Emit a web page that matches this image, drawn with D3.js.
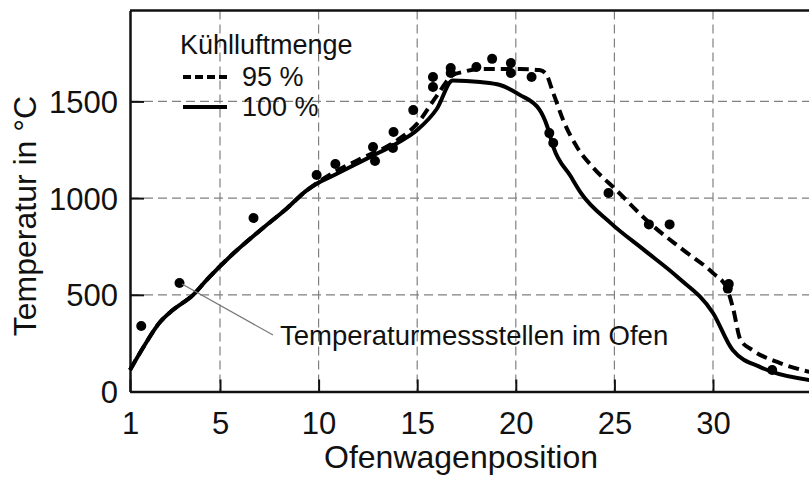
<!DOCTYPE html>
<html>
<head>
<meta charset="utf-8">
<script src="https://cdn.jsdelivr.net/npm/d3@7"></script>
<style>
  body { margin: 0; background: #fff; }
  svg { display: block; font-family: "Liberation Sans", Arial, sans-serif; }
</style>
</head>
<body>
<svg id="chart" width="809" height="477"></svg>
<script>
// x ticks (Ofenwagenposition) and y ticks (Temperatur)
const xTicks = [1, 5, 10, 15, 20, 25, 30];
const yTicks = [0, 500, 1000, 1500];

// Kühlluftmenge 100 % (solid)
const pos100 = [1.0, 1.6, 2.3, 2.9, 3.8, 4.4, 5.7, 7.0, 8.4, 9.4, 9.8, 10.9, 12.6, 14.0, 15.0, 16.0, 16.8, 18.2, 19.2, 20.2, 21.2, 21.6, 21.9, 22.8, 23.3, 24.8, 26.5, 28.2, 30.0, 31.0, 32.4, 33.0, 34.9];
const temp100 = [111, 230, 354, 421, 499, 576, 716, 830, 948, 1040, 1068, 1125, 1212, 1285, 1352, 1462, 1608, 1600, 1585, 1534, 1457, 1369, 1265, 1110, 1027, 872, 732, 592, 406, 214, 126, 101, 59];

// Kühlluftmenge 95 % (dashed)
const pos95 = [1.0, 1.6, 2.3, 2.9, 3.8, 4.4, 5.7, 7.0, 8.4, 9.4, 9.8, 10.9, 12.0, 14.0, 15.0, 16.0, 16.8, 17.3, 18.2, 20.2, 21.2, 21.5, 21.9, 22.4, 23.1, 23.9, 25.1, 26.8, 28.5, 30.0, 30.7, 31.0, 31.4, 32.0, 33.4, 34.9];
const temp95 = [111, 230, 354, 421, 499, 576, 716, 830, 948, 1040, 1070, 1140, 1197, 1300, 1385, 1530, 1636, 1652, 1667, 1667, 1662, 1647, 1543, 1404, 1264, 1160, 1041, 870, 731, 612, 535, 437, 266, 214, 147, 101];

// Temperaturmessstellen im Ofen
const measPos = [1.5, 3.2, 6.7, 9.9, 10.85, 12.76, 12.86, 13.8, 13.77, 14.8, 15.8, 15.8, 16.7, 16.7, 18.0, 18.8, 19.75, 19.75, 20.8, 21.7, 21.9, 24.7, 26.75, 27.8, 30.8, 30.75, 33.0];
const measTemp = [339, 561, 897, 1119, 1176, 1264, 1192, 1342, 1259, 1455, 1626, 1574, 1673, 1647, 1678, 1720, 1698, 1647, 1626, 1336, 1285, 1026, 864, 864, 556, 532, 111];

const svg = d3.select("#chart");

const mLeft = 130, mTop = 10.5, mBottom = 391.5, mRight = 815;
const xScale = d3.scaleLinear().domain([1, 5, 35]).range([mLeft, 220, 220 + 30 * 19.72]);
const yScale = d3.scaleLinear().domain([0, 1970]).range([mBottom, mTop]);

// grid
const grid = svg.append("g").attr("stroke", "#808080").attr("stroke-width", 1.2).attr("stroke-dasharray", "9,5");
grid.selectAll(".gx").data(xTicks.filter(d => d > 1)).join("line")
  .attr("x1", d => xScale(d)).attr("x2", d => xScale(d))
  .attr("y1", mTop).attr("y2", mBottom);
grid.selectAll(".gy").data(yTicks.filter(d => d > 0)).join("line")
  .attr("x1", mLeft).attr("x2", mRight)
  .attr("y1", d => yScale(d)).attr("y2", d => yScale(d));

// axes
const xAxis = d3.axisBottom(xScale).tickValues(xTicks).tickSize(-12).tickPadding(20).tickSizeOuter(0).tickFormat(d3.format("d"));
const yAxis = d3.axisLeft(yScale).tickValues(yTicks).tickSize(-14).tickPadding(12).tickSizeOuter(0).tickFormat(d3.format("d"));

const gx = svg.append("g").attr("transform", `translate(0,${mBottom})`).call(xAxis);
const gy = svg.append("g").attr("transform", `translate(${mLeft},0)`).call(yAxis);

[gx, gy].forEach(g => {
  g.select(".domain").attr("stroke", "#111").attr("stroke-width", 2.5);
  g.selectAll(".tick line").attr("stroke", "#111").attr("stroke-width", 2);
  g.selectAll(".tick text").attr("fill", "#111").style("font-size", "31px").style("font-family", "Liberation Sans, Arial, sans-serif");
});
gx.selectAll(".tick text").attr("dy", "0.71em").attr("y", 20);
gy.selectAll(".tick text").attr("dy", "0.36em");

// top border
svg.append("line").attr("x1", mLeft).attr("x2", mRight).attr("y1", mTop).attr("y2", mTop)
  .attr("stroke", "#111").attr("stroke-width", 2.5);

// curves
const line = d3.line().x(d => xScale(d[0])).y(d => yScale(d[1])).curve(d3.curveMonotoneX);
svg.append("path").attr("d", line(d3.zip(pos100, temp100)))
  .attr("fill", "none").attr("stroke", "#000").attr("stroke-width", 4);
svg.append("path").attr("d", line(d3.zip(pos95, temp95)))
  .attr("fill", "none").attr("stroke", "#000").attr("stroke-width", 4).attr("stroke-dasharray", "11,6");

// measurement points
svg.append("g").selectAll("circle").data(d3.zip(measPos, measTemp)).join("circle")
  .attr("cx", d => xScale(d[0])).attr("cy", d => yScale(d[1])).attr("r", 5).attr("fill", "#000");

// annotation
svg.append("line").attr("x1", 182).attr("y1", 284).attr("x2", 273).attr("y2", 335)
  .attr("stroke", "#777").attr("stroke-width", 1.2);
svg.append("text").attr("x", 280).attr("y", 345).attr("fill", "#111").style("font-size", "27.5px")
  .text("Temperaturmessstellen im Ofen");

// legend
const legend = svg.append("g").attr("fill", "#111").style("font-size", "27px");
legend.append("text").attr("x", 180).attr("y", 54).text("Kühlluftmenge");
legend.append("line").attr("x1", 183).attr("x2", 227).attr("y1", 77).attr("y2", 77)
  .attr("stroke", "#000").attr("stroke-width", 4).attr("stroke-dasharray", "8,4");
legend.append("text").attr("x", 242).attr("y", 86).text("95 %");
legend.append("line").attr("x1", 183).attr("x2", 227).attr("y1", 107).attr("y2", 107)
  .attr("stroke", "#000").attr("stroke-width", 4);
legend.append("text").attr("x", 242).attr("y", 116).text("100 %");

// axis titles
svg.append("text").attr("x", 461).attr("y", 468).attr("text-anchor", "middle")
  .attr("fill", "#111").style("font-size", "32px").text("Ofenwagenposition");
svg.append("text").attr("transform", "translate(36,216) rotate(-90)").attr("text-anchor", "middle")
  .attr("fill", "#111").style("font-size", "32px").text("Temperatur in °C");
</script>
</body>
</html>
